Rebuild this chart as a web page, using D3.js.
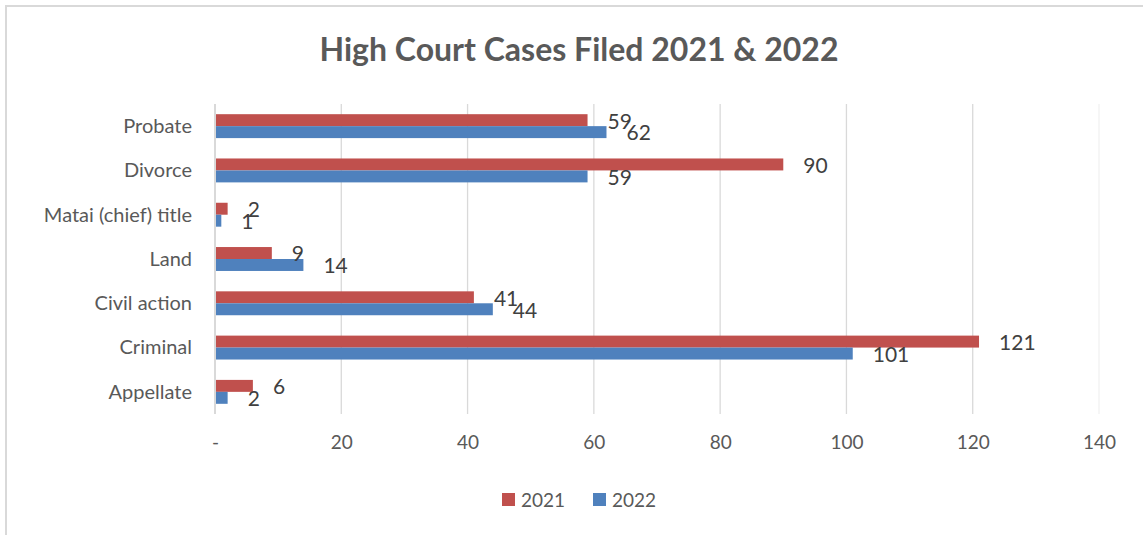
<!DOCTYPE html>
<html lang="en">
<head>
  <meta charset="utf-8">
  <title>High Court Cases Filed 2021 & 2022</title>
  <script src="https://d3js.org/d3.v7.min.js"></script>
  <style>
    body { margin: 0; background: #fff; }
    #chart text { font-family: Lato, "Open Sans", sans-serif; }
  </style>
</head>
<body>
  <div id="chart"></div>
  <script>
    "use strict"

    // dados
    var categorias = ["Probate", "Divorce", "Matai (chief) title", "Land", "Civil action", "Criminal", "Appellate"];
    var series = ["2021", "2022"];
    var valores2021 = [59, 90, 2, 9, 41, 121, 6];
    var valores2022 = [62, 59, 1, 14, 44, 101, 2];
    var ticksX = [0, 20, 40, 60, 80, 100, 120, 140];
    var cores = ["#C0504D", "#4F81BD"];

    var larguraSVG = 1143, alturaSVG = 535;
    var margin = {top: 104, right: 44, bottom: 121, left: 215};
    var larguraVis = larguraSVG - margin.left - margin.right,
        alturaVis = alturaSVG - margin.top - margin.bottom;

    var svg = d3.select('#chart').append('svg')
        .attr('width', larguraSVG)
        .attr('height', alturaSVG);

    // borda da area do grafico
    svg.append('path')
        .attr('d', 'M6,' + alturaSVG + 'V6H' + larguraSVG)
        .attr('fill', 'none')
        .attr('stroke', '#D9D9D9')
        .attr('stroke-width', 2);

    svg.append('text')
        .attr('x', 579).attr('y', 61)
        .attr('text-anchor', 'middle')
        .attr('font-size', 32)
        .attr('font-weight', 'bold')
        .attr('fill', '#595959')
        .text('High Court Cases Filed 2021 & 2022');

    var g = svg.append('g')
        .attr('transform', 'translate(' + margin.left + ',' + margin.top + ')');

    var x = d3.scaleLinear().domain([0, 140]).range([0, 884]);
    var y = d3.scaleBand().domain(categorias).range([0, alturaVis]).paddingInner(0.46).paddingOuter(0.23);
    var ySerie = d3.scaleBand().domain(series).range([0, y.bandwidth()]);

    // grade vertical
    g.selectAll('line.grade')
      .data(ticksX)
      .enter().append('line')
        .attr('class', 'grade')
        .attr('x1', d => x(d)).attr('x2', d => x(d))
        .attr('y1', 0).attr('y2', alturaVis)
        .attr('stroke', (d, i) => i === ticksX.length - 1 ? '#F2F2F2' : '#D9D9D9')
        .attr('stroke-width', (d, i) => i === 0 ? 2 : 1.3);

    var eixoX = g.append('g')
        .attr('transform', 'translate(0,' + alturaVis + ')')
        .call(d3.axisBottom(x).tickValues(ticksX).tickSize(0).tickPadding(22)
          .tickFormat(d => d === 0 ? '-' : d));
    eixoX.select('.domain').remove();
    eixoX.selectAll('text').attr('font-size', 19).attr('fill', '#595959');

    var eixoY = g.append('g')
        .call(d3.axisLeft(y).tickSize(0).tickPadding(23));
    eixoY.select('.domain').remove();
    eixoY.selectAll('text').attr('font-size', 20).attr('fill', '#595959').attr('dy', '0.34em');

    var dados = categorias.map((c, i) => ({categoria: c, valores: [valores2021[i], valores2022[i]]}));

    var grupos = g.selectAll('g.cat')
      .data(dados)
      .enter().append('g')
        .attr('class', 'cat')
        .attr('transform', d => 'translate(0,' + y(d.categoria) + ')');

    grupos.selectAll('rect')
      .data(d => d.valores.map((v, j) => ({serie: series[j], valor: v, j: j})))
      .enter().append('rect')
        .attr('x', 1)
        .attr('y', d => ySerie(d.serie))
        .attr('width', d => x(d.valor) - 1)
        .attr('height', ySerie.bandwidth())
        .attr('fill', d => cores[d.j]);

    grupos.selectAll('text.rotulo')
      .data(d => d.valores.map((v, j) => ({serie: series[j], valor: v, j: j})))
      .enter().append('text')
        .attr('class', 'rotulo')
        .attr('x', d => x(d.valor) + 20)
        .attr('y', d => ySerie(d.serie) + ySerie.bandwidth() / 2 + 1)
        .attr('dy', '0.35em')
        .attr('font-size', 21)
        .attr('fill', '#404040')
        .text(d => d.valor);

    // legenda
    var legenda = svg.append('g').attr('transform', 'translate(502,493)');
    var itens = legenda.selectAll('g')
      .data(series)
      .enter().append('g')
        .attr('transform', (d, i) => 'translate(' + (i * 91) + ',0)');
    itens.append('rect').attr('width', 13).attr('height', 13).attr('fill', (d, i) => cores[i]);
    itens.append('text')
        .attr('x', 19).attr('y', 7).attr('dy', '0.35em')
        .attr('font-size', 19).attr('fill', '#595959')
        .text(d => d);
  </script>
</body>
</html>
